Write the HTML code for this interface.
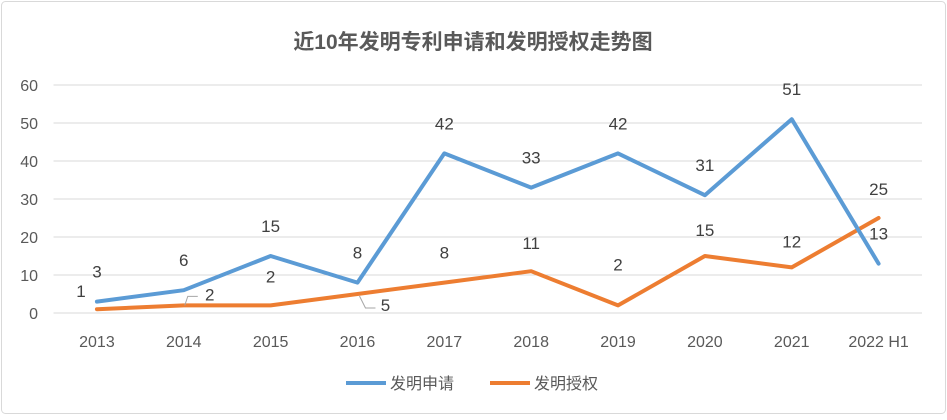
<!DOCTYPE html>
<html><head><meta charset="utf-8">
<style>
html,body{margin:0;padding:0;background:#fff;}
body{width:947px;height:415px;overflow:hidden;font-family:"Liberation Sans","Noto Sans CJK SC",sans-serif;}
</style></head>
<body>
<svg id="chart" width="947" height="415" xmlns="http://www.w3.org/2000/svg" font-family="Liberation Sans, Noto Sans CJK SC, sans-serif">
<rect x="1.5" y="1.5" width="944" height="412" rx="4" fill="#fff" stroke="#d9d9d9"/>
<text x="473" y="49" text-anchor="middle" font-size="21" font-weight="bold" fill="#595959">近10年发明专利申请和发明授权走势图</text>
<g id="grid"></g><g id="xaxis"></g><g id="series"></g><g id="labels"></g>
<g>
<g>
<line x1="346" y1="383" x2="386" y2="383" stroke="#5b9bd5" stroke-width="4"/>
<text x="390" y="389" font-size="16" fill="#595959">发明申请</text></g>
<g>
<line x1="490" y1="383" x2="530" y2="383" stroke="#ed7d31" stroke-width="4"/>
<text x="534" y="389" font-size="16" fill="#595959">发明授权</text></g>
</g>
</svg>
<script>
const categories=["2013","2014","2015","2016","2017","2018","2019","2020","2021","2022 H1"];
const applications=[3,6,15,8,42,33,42,31,51,13];
const grants=[1,2,2,5,8,11,2,15,12,25];
const yTicks=[0,10,20,30,40,50,60];
const NS="http://www.w3.org/2000/svg";
const L=53.5,R=922,Y0=313,Y60=85;
const bw=(R-L)/categories.length;
const x=i=>L+bw*(i+0.5);
const y=v=>Y0-(v/60)*(Y0-Y60);
function mk(t,a,p){const e=document.createElementNS(NS,t);for(const k in a)e.setAttribute(k,a[k]);p.appendChild(e);return e;}
const grid=document.getElementById('grid');
yTicks.forEach(v=>{
 const l=mk('line',{x1:L,x2:R,y1:y(v),y2:y(v),stroke:'#d9d9d9','stroke-width':1},grid);
 
 
 const t=mk('text',{x:38,y:y(v)+6,'text-anchor':'end','font-size':16,fill:'#595959'},grid);
 t.textContent=v;
 
 
});
const xa=document.getElementById('xaxis');
categories.forEach((c,i)=>{
 const t=mk('text',{x:x(i),y:347,'text-anchor':'middle','font-size':16,fill:'#595959'},xa);
 t.textContent=c;
 
 
});
const ser=document.getElementById('series');
function line(vals,color,name){
 const p=mk('polyline',{points:vals.map((v,i)=>x(i)+','+y(v)).join(' '),fill:'none',stroke:color,'stroke-width':4,'stroke-linejoin':'round','stroke-linecap':'round'},ser);
 
 
}
line(grants,'#ed7d31','grants-line');
line(applications,'#5b9bd5','applications-line');
const lab=document.getElementById('labels');
const appOff=[[0,-30],[0,-30],[0,-30],[0,-30],[0,-30],[0,-30],[0,-30],[0,-30],[0,-30],[0,-30]];
const grOff=[[-16,-18],[26,-11],[0,-29],[28,11],[0,-30],[0,-28],[0,-41],[0,-26],[0,-26],[0,-29]];
function labels(vals,off,name){
 vals.forEach((v,i)=>{
  const t=mk('text',{x:x(i)+off[i][0],y:y(v)+off[i][1]+6,'text-anchor':'middle','font-size':17,fill:'#404040'},lab);
  t.textContent=v;
  
  
 });
}
labels(applications,appOff,'applications');
labels(grants,grOff,'grants');
[[1,[[x(1)+1,y(grants[1])],[x(1)+4,y(grants[1])-9],[x(1)+14,y(grants[1])-9]]],[3,[[x(3)+2,y(grants[3])+2],[x(3)+8,y(grants[3])+14],[x(3)+18,y(grants[3])+14]]]].forEach(([i,pts])=>{
 const p=mk('polyline',{points:pts.map(q=>q.join(',')).join(' '),fill:'none',stroke:'#a6a6a6','stroke-width':1},lab);
 
 
});
</script>
</body></html>
